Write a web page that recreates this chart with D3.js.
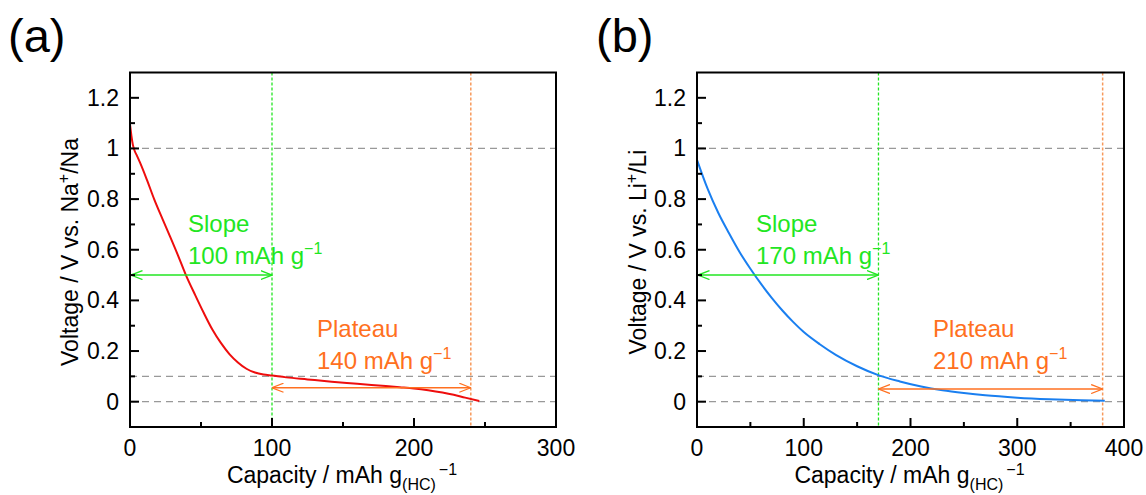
<!DOCTYPE html>
<html>
<head>
<meta charset="utf-8">
<script src="https://cdn.jsdelivr.net/npm/d3@7"></script>
<style>
  body { margin: 0; background: #fff; }
  svg { font-family: "Liberation Sans", Arial, sans-serif; }
</style>
</head>
<body>
<svg id="chart" width="1146" height="495"></svg>
<script>
// datos
// (a) sodio - capacidad / voltaje
const naCap = [0, 1, 2, 3, 5, 7, 12, 17, 23, 28, 34, 39, 46, 52, 58, 64, 70, 76, 82, 88, 94, 100, 110, 125, 142, 160, 175, 190, 200, 210, 220, 228, 236, 246]
const naV   = [1.095, 1.05, 1.015, 0.995, 0.97, 0.945, 0.875, 0.8, 0.72, 0.655, 0.575, 0.505, 0.42, 0.35, 0.285, 0.232, 0.188, 0.155, 0.13, 0.115, 0.107, 0.103, 0.096, 0.088, 0.079, 0.071, 0.064, 0.057, 0.052, 0.045, 0.036, 0.027, 0.016, 0.003]
// (b) litio
const liCap = [0, 10, 20, 30, 40, 50, 60, 70, 80, 90, 100, 115, 130, 150, 171, 190, 210, 230, 250, 270, 300, 330, 360, 382]
const liV   = [0.955, 0.84, 0.745, 0.665, 0.59, 0.525, 0.465, 0.41, 0.36, 0.315, 0.275, 0.227, 0.185, 0.14, 0.103, 0.08, 0.06, 0.045, 0.034, 0.025, 0.016, 0.01, 0.006, 0.004]

const yTicks  = [0, 0.2, 0.4, 0.6, 0.8, 1, 1.2]
const xTicksA = [0, 100, 200, 300]
const xTicksB = [0, 100, 200, 300, 400]
const guiasY  = [0, 0.1, 1]

// limites slope / plateau
const slopeA = [0, 100], plateauA = [100, 240]
const slopeB = [0, 170], plateauB = [170, 380]
const textoA = ['100', '140'], textoB = ['170', '210']

const verde = '#22e622'
const naranja = '#ff7020'

svg = d3.select('#chart')

defs = svg.append('defs')
function marcador(id, color) {
  defs.append('marker')
      .attr('id', id)
      .attr('viewBox', '0 0 12 10')
      .attr('refX', 11.5).attr('refY', 5)
      .attr('markerWidth', 12).attr('markerHeight', 10)
      .attr('markerUnits', 'userSpaceOnUse')
      .attr('orient', 'auto-start-reverse')
      .append('path')
      .attr('d', 'M0,0.5 L11.5,5 L0,9.5')
      .attr('fill', 'none')
      .attr('stroke', color)
      .attr('stroke-width', 1.3)
}
marcador('flechaV', verde)
marcador('flechaN', naranja)

function panel(cfg) {
  const x = d3.scaleLinear().domain(cfg.xDom).range([cfg.left, cfg.right])
  const y = d3.scaleLinear().domain([-0.1, 1.3]).range([427, 72.5])
  const g = svg.append('g')

  // lineas guia grises
  g.selectAll('line.guia').data(guiasY).enter()
   .append('line').attr('class', 'guia')
   .attr('x1', cfg.left).attr('x2', cfg.right)
   .attr('y1', d => y(d)).attr('y2', d => y(d))
   .attr('stroke', '#999').attr('stroke-width', 1.3)
   .attr('stroke-dasharray', '7,5')

  // verticales punteadas
  g.append('line')
   .attr('x1', x(cfg.slope[1])).attr('x2', x(cfg.slope[1]))
   .attr('y1', y(1.3)).attr('y2', y(-0.1))
   .attr('stroke', verde).attr('stroke-width', 1.3).attr('stroke-dasharray', '3,2')
  g.append('line')
   .attr('x1', x(cfg.plateau[1])).attr('x2', x(cfg.plateau[1]))
   .attr('y1', y(1.3)).attr('y2', y(-0.1))
   .attr('stroke', '#f79a5c').attr('stroke-width', 1.5).attr('stroke-dasharray', '3,2')

  // curva
  const datos = cfg.cap.map((c, i) => ({ c: c, v: cfg.v[i] }))
  g.append('path').datum(datos)
   .attr('fill', 'none')
   .attr('stroke', cfg.color).attr('stroke-width', 2)
   .attr('d', d3.line().x(d => x(d.c)).y(d => y(d.v)).curve(d3.curveMonotoneX))

  // flechas
  g.append('line')
   .attr('x1', x(cfg.slope[0]) + 1).attr('x2', x(cfg.slope[1]))
   .attr('y1', y(0.5)).attr('y2', y(0.5))
   .attr('stroke', verde).attr('stroke-width', 1.5)
   .attr('marker-start', 'url(#flechaV)').attr('marker-end', 'url(#flechaV)')
  g.append('line')
   .attr('x1', x(cfg.plateau[0])).attr('x2', x(cfg.plateau[1]))
   .attr('y1', y(cfg.flechaY)).attr('y2', y(cfg.flechaY))
   .attr('stroke', naranja).attr('stroke-width', 1.5)
   .attr('marker-start', 'url(#flechaN)').attr('marker-end', 'url(#flechaN)')

  // textos de anotacion
  function etiqueta(px, py, t1, num, color) {
    g.append('text').attr('x', px).attr('y', py)
     .attr('font-size', 24).attr('fill', color).text(t1)
    const t = g.append('text').attr('x', px).attr('y', py + 32)
     .attr('font-size', 24).attr('fill', color)
    t.append('tspan').text(num + ' mAh g')
    t.append('tspan').attr('dy', -10).attr('font-size', 16).text('\u22121')
  }
  etiqueta(cfg.slopeTx, 232, 'Slope', cfg.texto[0], verde)
  etiqueta(cfg.platTx, 337, 'Plateau', cfg.texto[1], naranja)

  // marco
  g.append('rect')
   .attr('x', cfg.left).attr('y', 72.5)
   .attr('width', cfg.right - cfg.left).attr('height', 427 - 72.5)
   .attr('fill', 'none').attr('stroke', '#000').attr('stroke-width', 2)

  // ticks hacia adentro
  const xMinor = d3.range(cfg.xDom[0] + 50, cfg.xDom[1], 100)
  const xMajor = cfg.xTicks.slice(1, -1)
  g.selectAll('line.xmaj').data(xMajor).enter().append('line')
   .attr('x1', d => x(d)).attr('x2', d => x(d)).attr('y1', 427).attr('y2', 418)
   .attr('stroke', '#000').attr('stroke-width', 2)
  g.selectAll('line.xmin').data(xMinor).enter().append('line')
   .attr('x1', d => x(d)).attr('x2', d => x(d)).attr('y1', 427).attr('y2', 422)
   .attr('stroke', '#000').attr('stroke-width', 2)
  const yMinor = d3.range(-0.1, 1.25, 0.2).map(d => Math.round(d * 10) / 10).filter(d => d > -0.1)
  g.selectAll('line.ymaj').data(yTicks).enter().append('line')
   .attr('x1', cfg.left).attr('x2', cfg.left + 9).attr('y1', d => y(d)).attr('y2', d => y(d))
   .attr('stroke', '#000').attr('stroke-width', 2)
  g.selectAll('line.ymin').data(yMinor).enter().append('line')
   .attr('x1', cfg.left).attr('x2', cfg.left + 5).attr('y1', d => y(d)).attr('y2', d => y(d))
   .attr('stroke', '#000').attr('stroke-width', 2)

  // etiquetas de ticks
  g.selectAll('text.yl').data(yTicks).enter().append('text')
   .attr('x', cfg.left - 11).attr('y', d => y(d) + 8)
   .attr('text-anchor', 'end').attr('font-size', 23)
   .text(d => d3.format('~g')(d))
  g.selectAll('text.xl').data(cfg.xTicks).enter().append('text')
   .attr('x', d => x(d)).attr('y', 456)
   .attr('text-anchor', 'middle').attr('font-size', 23)
   .text(d => d)

  // titulo eje X
  const tx = g.append('text')
   .attr('x', (cfg.left + cfg.right) / 2 - 1).attr('y', 483)
   .attr('text-anchor', 'middle').attr('font-size', 23)
  tx.append('tspan').text('Capacity / mAh g')
  tx.append('tspan').attr('dy', 7).attr('font-size', 16).text('(HC)')
  tx.append('tspan').attr('dy', -15).attr('dx', 3).attr('font-size', 16).text('\u22121')

  // titulo eje Y
  const ty = g.append('text')
   .attr('transform', `translate(${cfg.yLabX}, 252) rotate(-90)`)
   .attr('text-anchor', 'middle').attr('font-size', 23)
  ty.append('tspan').text('Voltage / V vs. ' + cfg.ion)
  ty.append('tspan').attr('dy', -9).attr('font-size', 16).text('+')
  ty.append('tspan').attr('dy', 9).text('/' + cfg.ion)

  // letra del panel
  svg.append('text').attr('x', cfg.letraX).attr('y', 52)
     .attr('font-size', 47).text(cfg.letra)
}

panel({ left: 130, right: 556, xDom: [0, 300], xTicks: xTicksA, cap: naCap, v: naV,
        color: '#ee0d0d', slope: slopeA, plateau: plateauA, flechaY: 0.055, texto: textoA,
        slopeTx: 188, platTx: 317, ion: 'Na', yLabX: 78, letra: '(a)', letraX: 8 })
panel({ left: 697, right: 1124, xDom: [0, 400], xTicks: xTicksB, cap: liCap, v: liV,
        color: '#1a7ff0', slope: slopeB, plateau: plateauB, flechaY: 0.05, texto: textoB,
        slopeTx: 756, platTx: 933, ion: 'Li', yLabX: 646, letra: '(b)', letraX: 596 })
</script>
</body>
</html>
